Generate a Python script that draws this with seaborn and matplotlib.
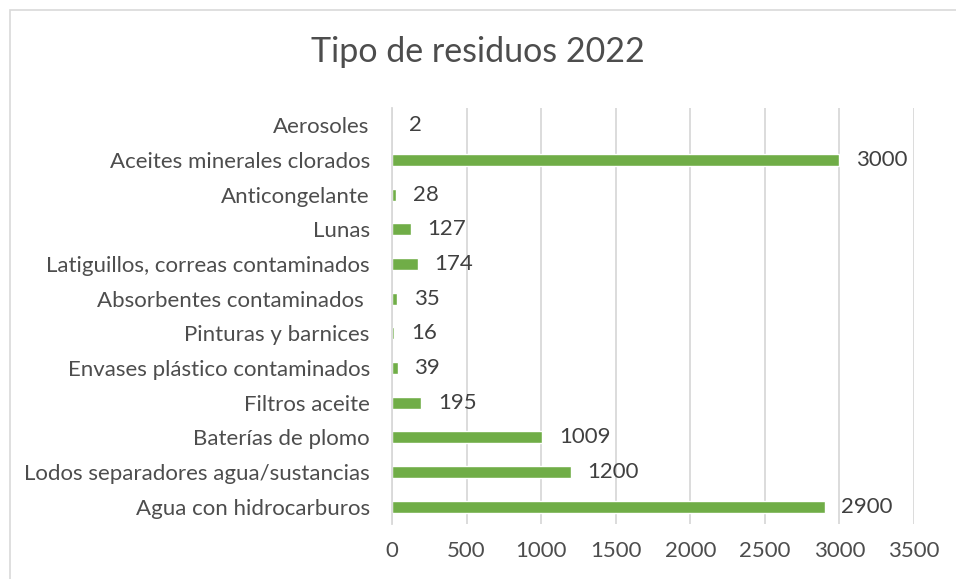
import matplotlib
matplotlib.use("Agg")
import matplotlib.pyplot as plt
import seaborn as sns
import pandas as pd

# data
categorias = [
    "Aerosoles",
    "Aceites minerales clorados",
    "Anticongelante",
    "Lunas",
    "Latiguillos, correas contaminados",
    "Absorbentes contaminados ",
    "Pinturas y barnices",
    "Envases plástico contaminados",
    "Filtros aceite",
    "Baterías de plomo",
    "Lodos separadores agua/sustancias",
    "Agua con hidrocarburos",
]
cantidades = [2, 3000, 28, 127, 174, 35, 16, 39, 195, 1009, 1200, 2900]
ticks_x = [0, 500, 1000, 1500, 2000, 2500, 3000, 3500]

df = pd.DataFrame({"tipo": categorias, "cantidad": cantidades})

sns.set_theme(style="white")
plt.rcParams["font.family"] = ["Lato", "DejaVu Sans"]

fig = plt.figure(figsize=(9.56, 5.79), dpi=100)
ax = fig.add_axes([392 / 956, 1 - 524 / 579, (914 - 392) / 956, (524 - 108) / 579])

sns.barplot(data=df, x="cantidad", y="tipo", color="#70AD47", width=0.35,
            saturation=1, ax=ax, orient="h")

ax.set_xlim(0, 3500)
ax.set_xticks(ticks_x)
ax.set_xlabel("")
ax.set_ylabel("")
ax.xaxis.grid(True, color="#D9D9D9", linewidth=1.3)
ax.set_axisbelow(True)
for s in ["top", "right", "bottom"]:
    ax.spines[s].set_visible(False)
ax.spines["left"].set_color("#D9D9D9")
ax.spines["left"].set_linewidth(1.3)
ax.tick_params(axis="x", length=0, pad=12, labelsize=16, labelcolor="#4D4D4D")
ax.tick_params(axis="y", length=0, pad=16, labelsize=16, labelcolor="#4D4D4D")

ax.bar_label(ax.containers[0], labels=[str(v) for v in cantidades],
             padding=12, fontsize=16, color="#404040")

fig.text(0.5, 1 - 52 / 579, "Tipo de residuos 2022", ha="center", va="center",
         fontsize=24.5, color="#4D4D4D")

# chart frame like the office chart border
fig.patches.append(plt.Rectangle((10 / 956, -0.1), 1.1, 1 - 10 / 579 + 0.1,
                                 transform=fig.transFigure, fill=False,
                                 edgecolor="#D9D9D9", linewidth=1.2))

fig.savefig("out.png", dpi=100)
